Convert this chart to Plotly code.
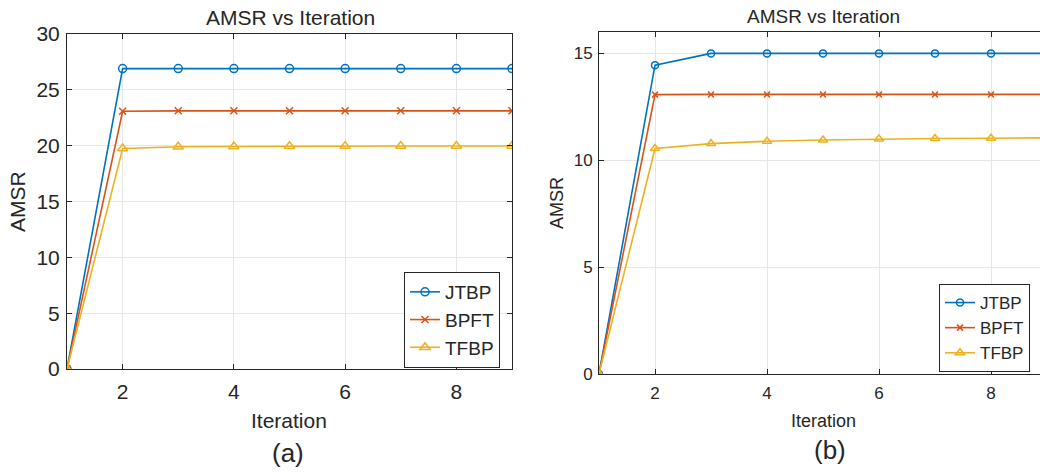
import plotly.graph_objects as go

iterations = [1, 2, 3, 4, 5, 6, 7, 8, 9]

# panel (a)
a_jtbp = [0, 26.9, 26.9, 26.9, 26.9, 26.9, 26.9, 26.9, 26.9]
a_bpft = [0, 23.08, 23.12, 23.12, 23.12, 23.12, 23.12, 23.12, 23.12]
a_tfbp = [0, 19.75, 19.9, 19.93, 19.95, 19.96, 19.97, 19.97, 19.97]

# panel (b)
b_jtbp = [0, 14.45, 15.0, 15.0, 15.0, 15.0, 15.0, 15.0, 15.0]
b_bpft = [0, 13.07, 13.08, 13.08, 13.08, 13.08, 13.08, 13.08, 13.08]
b_tfbp = [0, 10.55, 10.78, 10.89, 10.95, 11.0, 11.02, 11.03, 11.05]

names = ["JTBP", "BPFT", "TFBP"]
colors = ["#0072BD", "#D95319", "#EDB120"]
symbols = ["circle-open", "x-thin-open", "triangle-up-open"]
msizes = [8, 7, 9]

FONT = "Liberation Sans, Arial, sans-serif"
W, H = 1040, 473

fig = go.Figure()

for i, (ys, nm) in enumerate(zip([a_jtbp, a_bpft, a_tfbp], names)):
    fig.add_trace(go.Scatter(
        x=iterations, y=ys, name=nm, mode="lines+markers",
        line=dict(color=colors[i], width=1.6),
        marker=dict(symbol=symbols[i], size=msizes[i], color=colors[i],
                    line=dict(width=1.5, color=colors[i])),
        xaxis="x", yaxis="y", legend="legend"))

for i, (ys, nm) in enumerate(zip([b_jtbp, b_bpft, b_tfbp], names)):
    fig.add_trace(go.Scatter(
        x=iterations, y=ys, name=nm, mode="lines+markers",
        line=dict(color=colors[i], width=1.6),
        marker=dict(symbol=symbols[i], size=msizes[i] - 1, color=colors[i],
                    line=dict(width=1.5, color=colors[i])),
        xaxis="x2", yaxis="y2", legend="legend2"))

axis_common = dict(
    showline=True, linecolor="#262626", linewidth=1,
    ticks="inside", ticklen=5, tickcolor="#262626",
    showgrid=True, gridcolor="#e6e6e6", gridwidth=1,
    zeroline=False, automargin=False,
)

fig.update_layout(
    width=W, height=H, autosize=False,
    margin=dict(l=0, r=0, t=0, b=0, pad=0, autoexpand=False),
    paper_bgcolor="white", plot_bgcolor="white",
    font=dict(family=FONT, color="#262626"),
    xaxis=dict(domain=[67 / W, 512 / W], range=[1, 9], tickvals=[2, 4, 6, 8],
               mirror="ticks", anchor="y", tickfont=dict(size=21),
               ticklabelstandoff=4, **axis_common),
    yaxis=dict(domain=[1 - 369 / H, 1 - 34 / H], range=[0, 30],
               tickvals=[0, 5, 10, 15, 20, 25, 30], mirror="ticks", anchor="x",
               tickfont=dict(size=21), ticklabelstandoff=2, **axis_common),
    xaxis2=dict(domain=[599 / W, 1.0], range=[1, 1 + (1040 - 599) / 56.0],
                tickvals=[2, 4, 6, 8], mirror="ticks", anchor="y2",
                tickfont=dict(size=17), ticklabelstandoff=4, **axis_common),
    yaxis2=dict(domain=[1 - 374 / H, 1 - 32 / H], range=[0, 16],
                tickvals=[0, 5, 10, 15], mirror=False, anchor="x2",
                tickfont=dict(size=17), ticklabelstandoff=2, **axis_common),
    legend=dict(x=500 / W, y=1 - 272 / H, xanchor="right", yanchor="top",
                bgcolor="white", bordercolor="#262626", borderwidth=1,
                font=dict(size=19, family=FONT, color="#262626"),
                tracegroupgap=0, itemwidth=30),
    legend2=dict(x=1030 / W, y=1 - 284 / H, xanchor="right", yanchor="top",
                 bgcolor="white", bordercolor="#262626", borderwidth=1,
                 font=dict(size=17, family=FONT, color="#262626"),
                 tracegroupgap=0, itemwidth=30),
    showlegend=True,
)

def ann(text, x, y, size, angle=0):
    fig.add_annotation(text=text, x=x / W, y=1 - y / H, xref="paper", yref="paper",
                       showarrow=False, xanchor="center", yanchor="middle",
                       textangle=angle, font=dict(size=size, family=FONT, color="#262626"))

ann("AMSR vs Iteration", 290, 18, 21)
ann("AMSR vs Iteration", 823, 17, 19)
ann("Iteration", 289, 420, 21)
ann("Iteration", 823, 421, 18)
ann("AMSR", 18, 202, 21, -90)
ann("AMSR", 557, 203, 18, -90)
ann("(a)", 288, 453, 26)
ann("(b)", 830, 450, 26)

fig.write_html("out.html")
